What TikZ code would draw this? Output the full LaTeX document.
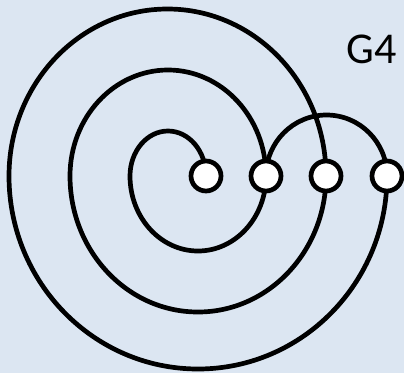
\documentclass[tikz,border=0pt]{standalone}
\usepackage{fontspec}
\setmainfont{Carlito}
\definecolor{bgblue}{RGB}{220,230,242}
\pgfdeclarelayer{backdrop}
\pgfdeclarelayer{edges}
\pgfsetlayers{backdrop,edges,main}
\tikzset{
  vert/.style={circle,draw=black,fill=white,line width=4.7pt,minimum size=30pt,inner sep=0pt},
  edge/.style={draw=black,line width=4.7pt}
}
\begin{document}
\begin{tikzpicture}[x=1pt,y=-1pt]
\begin{pgfonlayer}{backdrop}
\fill[bgblue] (0,0) rectangle (404,373);
\end{pgfonlayer}
\useasboundingbox (0,0) rectangle (404,373);
\node[vert] (n1) at (206,176) {};
\node[vert] (n2) at (266,176) {};
\node[vert] (n3) at (326,176) {};
\node[vert] (n4) at (387,176) {};
\node (lbl) at (372,49) {\fontsize{44}{44}\selectfont G4};
\begin{pgfonlayer}{edges}
\path[edge] (n1.center)
  arc[start angle=0,end angle=-180,x radius=38,y radius=45]
  arc[start angle=180,end angle=0,x radius=68,y radius=75]
  arc[start angle=0,end angle=-180,x radius=98,y radius=106]
  arc[start angle=180,end angle=0,x radius=128,y radius=136]
  arc[start angle=0,end angle=-180,x radius=158.5,y radius=167]
  arc[start angle=180,end angle=0,x radius=189,y radius=193];
\path[edge] (n2.center) arc[start angle=180,end angle=360,x radius=60.5,y radius=61];
\end{pgfonlayer}
\end{tikzpicture}
\end{document}
